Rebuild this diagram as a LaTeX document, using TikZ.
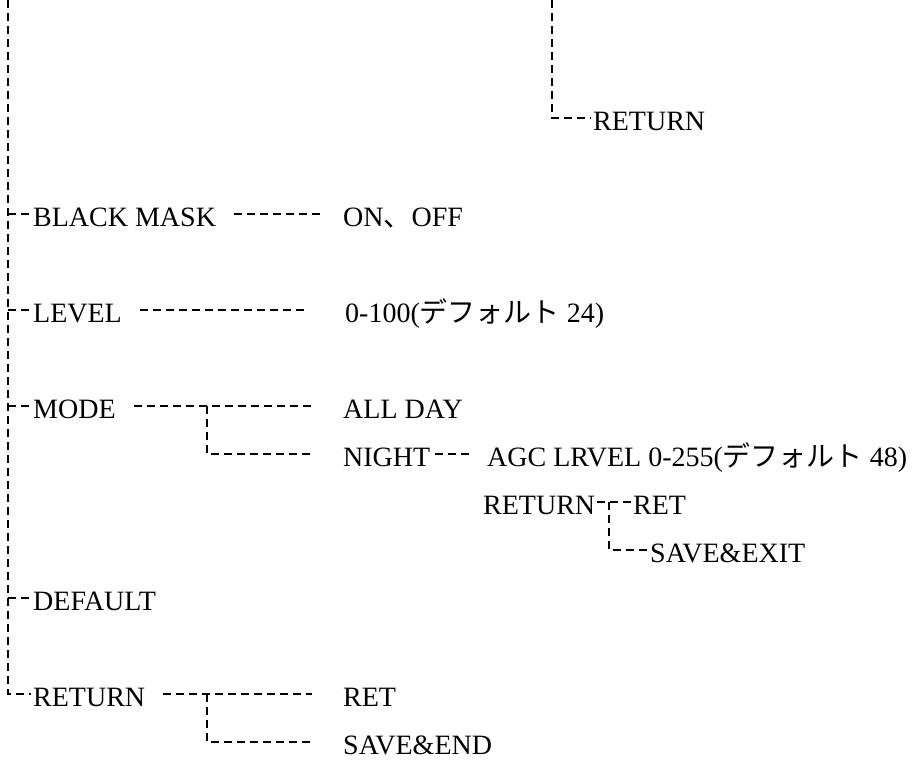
\documentclass[tikz,border=0pt]{standalone}
\usepackage{fontspec}
\setmainfont{Liberation Serif}
\newfontfamily\jp{Noto Sans CJK JP}
\usepackage{tikz}
\tikzstyle{item} = [anchor=west, inner sep=2bp, text height=24bp, text depth=0pt, font=\fontsize{28bp}{34bp}\selectfont]
\tikzstyle{dashline} = [line width=2bp, dash pattern=on 8bp off 5bp]
\tikzstyle{gap} = [dashline, shorten <=16bp, shorten >=29bp]
\newcommand{\dflt}{{\jp デフォルト}}

\begin{document}
\begin{tikzpicture}[x=1bp,y=-1bp]
\useasboundingbox (0,0) rectangle (914,764);
\coordinate (top) at (8,0);
\coordinate (top2) at (552,0);
\node[item] (ret0) at (591,118) {RETURN};
\node[item] (blackmask) at (31,214) {BLACK MASK};
\node[item] (onoff) at (341,214) {ON{\jp 、}OFF};
\node[item] (level) at (31,310) {LEVEL};
\node[item] (levelval) at (343,310) {0-100(\dflt{} 24)};
\node[item] (mode) at (31,406) {MODE};
\node[item] (allday) at (341,406) {ALL DAY};
\node[item] (night) at (341,454) {NIGHT};
\node[item] (agc) at (485,454) {AGC LRVEL 0-255(\dflt{} 48)};
\node[item] (ret1) at (481,502) {RETURN};
\node[item] (ret2) at (631,502) {RET};
\node[item] (saveexit) at (648,550) {SAVE\&EXIT};
\node[item] (default) at (31,598) {DEFAULT};
\node[item] (ret3) at (31,694) {RETURN};
\node[item] (ret4) at (341,694) {RET};
\node[item] (saveend) at (341,742) {SAVE\&END};
\coordinate (modebr) at (207,406);
\coordinate (subbr) at (609,502);
\coordinate (retbr) at (207,694);

\draw[dashline] (top2) |- (ret0.west);
\draw[dashline] (top) |- (ret3.west);
\foreach \n in {blackmask, level, mode, default}
  \draw[dashline] (\n.west -| top) -- (\n.west);
\draw[gap, shorten >=18bp] (blackmask) -- (onoff);
\draw[gap, shorten >=35bp] (level) -- (levelval);
\draw[gap] (mode) -- (allday);
\draw[dashline, shorten >=29bp] (modebr) |- (night.west);
\draw[dashline, shorten <=3bp, shorten >=13bp] (night) -- (agc);
\draw[dashline] (ret1) -- (ret2);
\draw[dashline] (subbr) |- (saveexit.west);
\draw[gap] (ret3) -- (ret4);
\draw[dashline, shorten >=29bp] (retbr) |- (saveend.west);
\end{tikzpicture}
\end{document}
